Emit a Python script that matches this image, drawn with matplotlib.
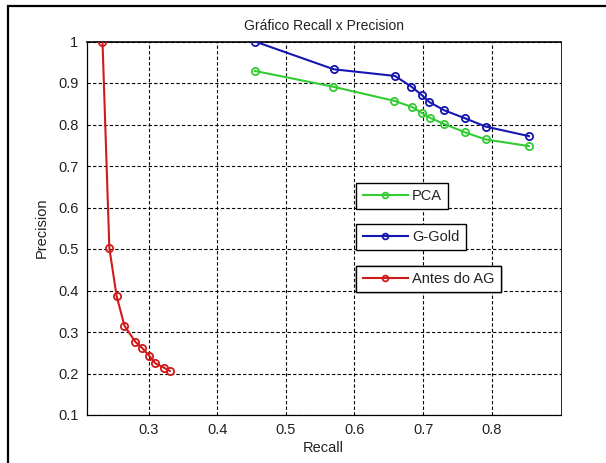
import matplotlib
matplotlib.use("Agg")
import matplotlib.pyplot as plt
from matplotlib.patches import Rectangle

# data
recall_pca = [0.455, 0.569, 0.658, 0.684, 0.698, 0.710, 0.731, 0.761, 0.791, 0.854]
prec_pca = [0.929, 0.891, 0.857, 0.842, 0.828, 0.816, 0.801, 0.781, 0.764, 0.748]

recall_gold = [0.455, 0.570, 0.659, 0.683, 0.698, 0.709, 0.731, 0.761, 0.791, 0.854]
prec_gold = [1.000, 0.933, 0.917, 0.891, 0.871, 0.854, 0.834, 0.815, 0.795, 0.772]

recall_antes = [0.233, 0.243, 0.2535, 0.265, 0.2805, 0.291, 0.301, 0.310, 0.3225, 0.331]
prec_antes = [1.000, 0.502, 0.387, 0.315, 0.277, 0.261, 0.243, 0.2245, 0.214, 0.206]

labels = ["PCA", "G-Gold", "Antes do AG"]
colors = ["#33cc33", "#1616b0", "#d01a1a"]
xticks = [0.3, 0.4, 0.5, 0.6, 0.7, 0.8]
yticks = [0.1, 0.2, 0.3, 0.4, 0.5, 0.6, 0.7, 0.8, 0.9, 1.0]

plt.rcParams["font.family"] = ["Liberation Sans", "DejaVu Sans"]
txt = "#222222"

fig = plt.figure(figsize=(6.06, 4.63), dpi=100)
ax = fig.add_axes([86.7 / 606, 1 - 415 / 463, (560.5 - 86.7) / 606, (415 - 41.5) / 463])

series = [(recall_pca, prec_pca), (recall_gold, prec_gold), (recall_antes, prec_antes)]
lines = []
for (x, y), c in zip(series, colors):
    ln, = ax.plot(x, y, "-o", color=c, lw=1.5, markersize=5.2, mfc="none", mew=1.3,
                  zorder=3)
    lines.append(ln)

ax.set_xlim(0.21, 0.9)
ax.set_ylim(0.1, 1.0)
ax.set_xticks(xticks)
ax.set_yticks(yticks)
ax.set_xticklabels(["%g" % v for v in xticks])
ax.set_yticklabels(["%g" % v for v in yticks])
ax.tick_params(direction="in", length=0, labelsize=10.5, colors=txt, pad=6)
ax.grid(True, color="black", linestyle=(0, (3, 2)), lw=0.8)
for s in ["top", "right"]:
    ax.spines[s].set_visible(False)
ax.spines["left"].set_linewidth(0.9)
ax.spines["bottom"].set_linewidth(0.9)
ax.plot([0.21, 0.9], [1.0, 1.0], color="black", lw=1.2, clip_on=False, zorder=2)
ax.plot([0.9, 0.9], [0.1, 1.0], color="black", lw=0.6, clip_on=False, zorder=2)

ax.set_title("Gráfico Recall x Precision", fontsize=10, color=txt, pad=8)
ax.set_xlabel("Recall", fontsize=10.5, color=txt, labelpad=3)
ax.set_ylabel("Precision", fontsize=10.5, color=txt, labelpad=7)

# three separate legend boxes, one per series
tops = [182.7, 224.0, 265.7]
for ln, lab, top in zip(lines, labels, tops):
    leg = ax.legend([ln], [lab], loc="upper left",
                    bbox_to_anchor=(356.4 / 606, 1 - top / 463),
                    bbox_transform=fig.transFigure, fontsize=10.5, numpoints=1,
                    handlelength=3.1, handletextpad=0.3, borderpad=0.42,
                    borderaxespad=0, fancybox=False, framealpha=1,
                    edgecolor="black", markerscale=0.8)
    leg.get_frame().set_linewidth(1.0)
    for t in leg.get_texts():
        t.set_color(txt)
    ax.add_artist(leg)

# outer frame around the figure
fig.patches.append(Rectangle((7.5 / 606, -0.1), 1.0, 1.1 - 5.5 / 463, fill=False,
                             lw=1.6, edgecolor="black", transform=fig.transFigure))

plt.savefig("out.png", dpi=100)
